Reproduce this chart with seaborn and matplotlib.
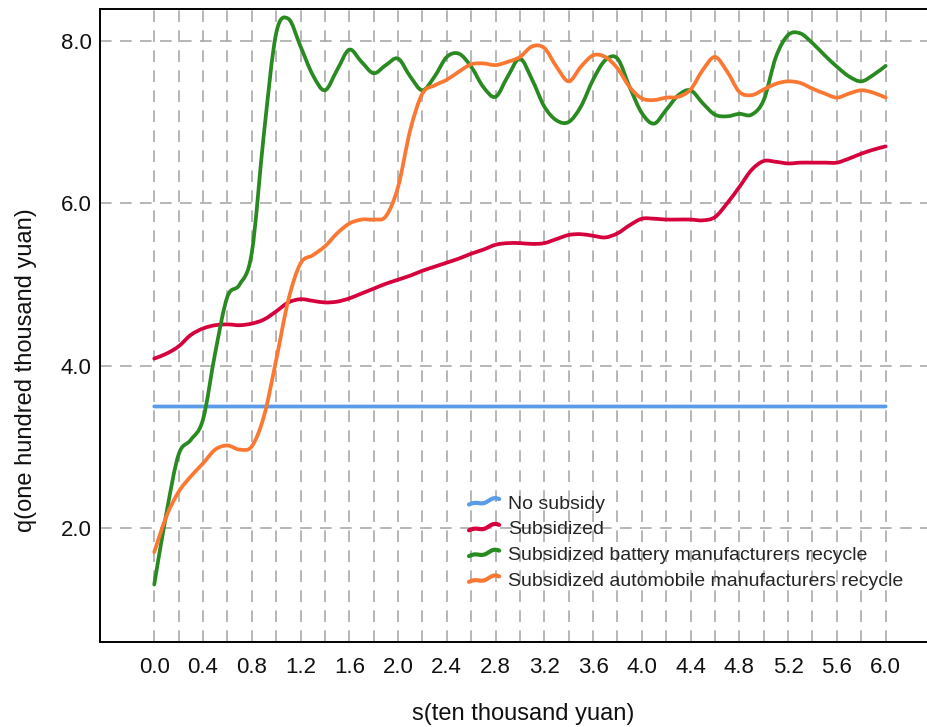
import numpy as np
import pandas as pd
import seaborn as sns
import matplotlib
matplotlib.use("Agg")
import matplotlib.pyplot as plt
from matplotlib.lines import Line2D
from matplotlib.path import Path
from matplotlib.patches import PathPatch
from matplotlib.legend_handler import HandlerLine2D
from matplotlib.ticker import FormatStrFormatter

# subsidy s (ten thousand yuan), read every 0.1
s = [round(0.1 * i, 1) for i in range(61)]

no_subsidy = [3.5] * 61

subsidized = [4.09, 4.15, 4.24, 4.38, 4.46, 4.50, 4.51, 4.50, 4.52, 4.57,
              4.67, 4.78, 4.82, 4.80, 4.78, 4.79, 4.83, 4.89, 4.95, 5.01,
              5.06, 5.11, 5.17, 5.22, 5.27, 5.32, 5.38, 5.43, 5.49, 5.51,
              5.51, 5.50, 5.51, 5.56, 5.61, 5.62, 5.60, 5.58, 5.63, 5.73,
              5.81, 5.81, 5.80, 5.80, 5.80, 5.79, 5.83, 6.00, 6.20, 6.41,
              6.52, 6.51, 6.49, 6.50, 6.50, 6.50, 6.50, 6.55, 6.61, 6.66,
              6.70]

battery = [1.31, 2.19, 2.91, 3.09, 3.34, 4.16, 4.85, 5.00, 5.39, 6.86,
           8.09, 8.27, 7.93, 7.58, 7.39, 7.64, 7.89, 7.74, 7.60, 7.70,
           7.78, 7.56, 7.39, 7.56, 7.80, 7.84, 7.68, 7.43, 7.31, 7.56,
           7.78, 7.52, 7.19, 7.02, 7.00, 7.19, 7.52, 7.76, 7.78, 7.43,
           7.11, 6.98, 7.15, 7.33, 7.39, 7.23, 7.09, 7.07, 7.10, 7.09,
           7.27, 7.80, 8.07, 8.09, 7.97, 7.82, 7.68, 7.56, 7.50, 7.58,
           7.69]

automobile = [1.71, 2.15, 2.45, 2.64, 2.80, 2.97, 3.02, 2.97, 3.01, 3.38,
              4.07, 4.81, 5.26, 5.36, 5.47, 5.63, 5.75, 5.80, 5.80, 5.84,
              6.20, 6.90, 7.35, 7.45, 7.52, 7.62, 7.71, 7.72, 7.70, 7.74,
              7.80, 7.93, 7.91, 7.68, 7.50, 7.68, 7.82, 7.80, 7.66, 7.43,
              7.29, 7.27, 7.30, 7.31, 7.40, 7.64, 7.80, 7.62, 7.37, 7.33,
              7.40, 7.47, 7.50, 7.48, 7.41, 7.35, 7.30, 7.35, 7.39, 7.36,
              7.30]

names = ["No subsidy", "Subsidized",
         "Subsidized battery manufacturers recycle",
         "Subsidized automobile manufacturers recycle"]
colors = ["#5b9be8", "#d6003c", "#2a8a22", "#fa7832"]

df = pd.concat([
    pd.DataFrame({"s": s, "q": vals, "scheme": name})
    for name, vals in zip(names, [no_subsidy, subsidized, battery, automobile])
])

sns.set_style("white")
plt.rcParams["font.family"] = ["Liberation Sans", "DejaVu Sans"]


class WavyHandler(HandlerLine2D):
    # little "~" shaped legend handle
    def create_artists(self, legend, orig_handle, xdescent, ydescent,
                       width, height, fontsize, trans):
        t = np.linspace(0, 1, 40)
        xs = -xdescent + t * width
        ys = (-ydescent + height / 2
              - 0.2 * height * np.cos(np.pi * t)
              + 0.09 * height * np.sin(3 * np.pi * t))
        line = Line2D(xs, ys, color=orig_handle.get_color(),
                      linewidth=orig_handle.get_linewidth(),
                      solid_capstyle="round")
        line.set_transform(trans)
        return [line]


def smooth_line(ax, line):
    # redraw a line as bezier curves through its own points (smooth style)
    p = line.get_xydata()
    n = len(p)
    verts = [p[0]]
    codes = [Path.MOVETO]
    for i in range(n - 1):
        p0 = p[max(i - 1, 0)]
        p3 = p[min(i + 2, n - 1)]
        c1 = p[i] + (p[i + 1] - p0) / 6
        c2 = p[i + 1] - (p3 - p[i]) / 6
        verts += [c1, c2, p[i + 1]]
        codes += [Path.CURVE4] * 3
    patch = PathPatch(Path(verts, codes), fill=False,
                      edgecolor=line.get_color(),
                      linewidth=line.get_linewidth(),
                      capstyle="round", joinstyle="round",
                      zorder=line.get_zorder())
    ax.add_patch(patch)
    line.remove()


fig = plt.figure(figsize=(9.28, 7.27), dpi=100)
ax = fig.add_axes([100 / 928, 85 / 727, 850 / 928, 633 / 727])

sns.lineplot(data=df, x="s", y="q", hue="scheme", palette=colors,
             hue_order=names, linewidth=2.7, legend=False, ax=ax)

for ln in list(ax.lines):
    smooth_line(ax, ln)

ax.set_xlim(-0.445, 6.528)
ax.set_ylim(0.603, 8.39)

ax.xaxis.set_major_formatter(FormatStrFormatter("%.1f"))
ax.yaxis.set_major_formatter(FormatStrFormatter("%.1f"))

# labels every 0.4, grid every 0.2, only from 0.0 to 6.0
ax.set_xticks([round(0.4 * i, 1) for i in range(16)])
ax.set_xticks([round(0.2 * i, 1) for i in range(31)], minor=True)
ax.set_yticks([2.0, 4.0, 6.0, 8.0])

grid_kw = dict(color="#aaaaaa", linewidth=1.2, linestyle=(0, (7, 5)))
ax.grid(True, which="both", axis="x", **grid_kw)
ax.grid(True, which="major", axis="y", **grid_kw)

ax.tick_params(axis="both", which="both", length=0, labelsize=16,
               colors="#111111")
ax.tick_params(axis="x", pad=11)
ax.tick_params(axis="y", pad=6)

for side in ["left", "top", "bottom"]:
    ax.spines[side].set_color("black")
    ax.spines[side].set_linewidth(1.4)
ax.spines["right"].set_visible(False)

ax.set_xlabel("s(ten thousand yuan)", fontsize=17, color="#111111")
ax.set_ylabel("q(one hundred thousand yuan)", fontsize=17, color="#111111")
ax.xaxis.set_label_coords(0.498, -0.096)
ax.yaxis.set_label_coords(-0.074, 0.43)

handles = [Line2D([], [], color=c, linewidth=3.0) for c in colors]
ax.legend(handles, names, handler_map={Line2D: WavyHandler()},
          loc="upper left", bbox_to_anchor=(469 / 928, 1 - 495 / 727),
          bbox_transform=fig.transFigure, frameon=False, fontsize=14,
          borderpad=0, borderaxespad=0, handlelength=1.55,
          handletextpad=0.45, labelspacing=0.42)

fig.savefig("out.png", dpi=100)
